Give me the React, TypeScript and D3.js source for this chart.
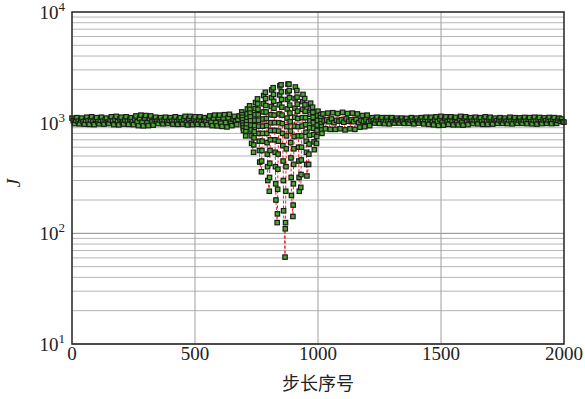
import React from "react";
import * as d3 from "d3";

// ---- data ----
// flat part before the burst: steps 0..680 every 5
const flatLeftStart = 0;
const flatLeftJ = [
  1100, 1040, 980, 1050, 1110, 1030, 975, 1060, 1100, 1020,
  970, 1050, 1120, 1040, 965, 1060, 1130, 1030, 960, 1070,
  1110, 1020, 975, 1050, 1120, 1030, 970, 1060, 1100, 1010,
  980, 1060, 1130, 1030, 960, 1070, 1140, 1020, 955, 1080,
  1120, 1010, 970, 1060, 1130, 1030, 965, 1070, 1110, 1020,
  960, 1080, 1150, 1020, 940, 1090, 1170, 1010, 935, 1100,
  1160, 1000, 940, 1090, 1150, 1020, 950, 1080, 1120, 1030,
  980, 1060, 1110, 1030, 975, 1060, 1120, 1020, 980, 1050,
  1110, 1030, 970, 1060, 1130, 1020, 965, 1070, 1110, 1020,
  970, 1070, 1140, 1010, 955, 1080, 1140, 1000, 960, 1080,
  1130, 1010, 965, 1070, 1130, 1020, 960, 1070, 1110, 1030,
  960, 1090, 1150, 1010, 940, 1100, 1170, 1000, 935, 1110,
  1170, 990, 925, 1100, 1180, 1000, 915, 1110, 1190, 990,
  940, 1080, 1140, 1020, 960, 1070, 1150,
];
// burst: column start steps and the J values in each column (one step apart)
const burstColumnSteps = [
  690, 706, 722, 738, 754, 770, 786, 802, 818, 834, 850,
  866, 882, 898, 914, 930, 946, 962, 978, 994, 1010,
];
const burstColumnJ = [
  [1250, 1180, 1120, 1060, 1000, 950, 900, 850],
  [760, 840, 910, 980, 1050, 1120, 1200, 1330],
  [1420, 1320, 1220, 1130, 1040, 950, 860, 760, 650],
  [540, 630, 730, 830, 940, 1050, 1180, 1340, 1520],
  [1640, 1480, 1320, 1180, 1050, 930, 800, 680, 560, 440],
  [360, 450, 560, 680, 800, 930, 1080, 1250, 1480, 1760],
  [1880, 1650, 1430, 1250, 1090, 940, 800, 660, 520, 400, 300],
  [240, 320, 430, 560, 700, 850, 1000, 1180, 1400, 1680, 1980],
  [2070, 1800, 1560, 1350, 1170, 1000, 850, 700, 540, 400, 280, 200],
  [125, 150, 250, 380, 520, 680, 840, 1000, 1200, 1450, 1780, 2150],
  [2200, 1900, 1620, 1380, 1170, 980, 800, 620, 450, 300, 160],
  [61, 110, 125, 240, 400, 580, 760, 920, 1100, 1330, 1620, 1900, 2230],
  [2230, 1950, 1680, 1440, 1220, 1020, 840, 660, 480, 320, 220],
  [142, 180, 280, 420, 580, 750, 930, 1120, 1350, 1650, 2100],
  [1950, 1700, 1470, 1270, 1090, 920, 760, 600, 450, 320, 240],
  [260, 340, 460, 600, 760, 930, 1110, 1320, 1550, 1800],
  [1650, 1450, 1270, 1110, 960, 820, 680, 540, 420, 330],
  [420, 520, 640, 770, 900, 1040, 1190, 1340, 1500],
  [1380, 1240, 1120, 1000, 890, 780, 670, 570],
  [650, 750, 850, 950, 1050, 1160, 1270],
  [1180, 1110, 1040, 980, 920, 860, 800],
];
// flat part after the burst: steps 1020..2000 every 5
const flatRightStart = 1020;
const flatRightJ = [
  1200, 1040, 880, 1060, 1220, 1020, 870, 1080, 1230, 1000,
  870, 1050, 1210, 1030, 880, 1060, 1240, 1010, 860, 1080,
  1210, 1030, 880, 1060, 1220, 1020, 870, 1070, 1200, 1000,
  910, 1050, 1160, 1030, 920, 1060, 1170, 1020, 940, 1060,
  1110, 1040, 990, 1060, 1120, 1030, 985, 1070, 1110, 1020,
  980, 1060, 1110, 1030, 975, 1070, 1110, 1020, 990, 1060,
  1100, 1040, 990, 1060, 1100, 1030, 985, 1070, 1095, 1020,
  985, 1060, 1110, 1030, 975, 1070, 1100, 1030, 990, 1060,
  1110, 1030, 975, 1070, 1120, 1020, 965, 1080, 1120, 1010,
  955, 1070, 1130, 1020, 945, 1080, 1140, 1010, 950, 1090,
  1130, 1020, 965, 1070, 1130, 1030, 955, 1080, 1120, 1010,
  955, 1080, 1140, 1010, 950, 1090, 1130, 1020, 960, 1080,
  1110, 1030, 980, 1060, 1120, 1030, 975, 1070, 1110, 1020,
  965, 1070, 1130, 1020, 965, 1080, 1120, 1010, 970, 1070,
  1100, 1040, 985, 1060, 1110, 1030, 985, 1060, 1100, 1030,
  980, 1060, 1120, 1030, 975, 1070, 1110, 1020, 985, 1060,
  1105, 1030, 985, 1060, 1115, 1030, 980, 1070, 1110, 1020,
  975, 1060, 1120, 1030, 970, 1070, 1115, 1020, 980, 1060,
  1105, 1040, 985, 1060, 1115, 1030, 980, 1070, 1110, 1020,
  985, 1050, 1100, 1030, 1080, 1020, 1010,
];
const flatStep = 5;

const xTicks = [0, 500, 1000, 1500, 2000];
const yDecades = [1, 2, 3, 4];
const xLabel = "步长序号";
const yLabel = "J";

// ---- build series ----
type Pt = { step: number; J: number };
const points: Pt[] = [];
flatLeftJ.forEach((J, i) => points.push({ step: flatLeftStart + i * flatStep, J }));
burstColumnJ.forEach((col, c) =>
  col.forEach((J, i) => points.push({ step: burstColumnSteps[c] + i, J }))
);
flatRightJ.forEach((J, i) => points.push({ step: flatRightStart + i * flatStep, J }));

const W = 585, H = 399;
const M = { left: 72, right: 564, top: 12, bottom: 344 };

export default function App() {
  const x = d3.scaleLinear().domain([0, 2000]).range([M.left, M.right]);
  const y = d3.scaleLog().domain([10, 10000]).range([M.bottom, M.top]);

  const gridY: { v: number; major: boolean }[] = [];
  for (let e = 1; e <= 3; e++) {
    for (let k = 1; k <= 9; k++) {
      const v = k * Math.pow(10, e);
      gridY.push({ v, major: k === 1 });
    }
  }
  const line = d3
    .line<Pt>()
    .x((d) => x(d.step))
    .y((d) => y(d.J));

  const ms = 4.4;
  const serif = "'Liberation Serif', 'Times New Roman', serif";

  return (
    <svg
      width={W}
      height={H}
      style={{ position: "absolute", left: 0, top: 0, background: "#fff" }}
    >
      <rect x={0} y={0} width={W} height={H} fill="#fff" />
      {/* grid */}
      {gridY.map((g, i) => (
        <line
          key={"gy" + i}
          x1={M.left}
          x2={M.right}
          y1={y(g.v)}
          y2={y(g.v)}
          stroke={g.major ? "#8a8a8a" : "#b5b5b5"}
          strokeWidth={1}
        />
      ))}
      {xTicks.slice(1, -1).map((t) => (
        <line
          key={"gx" + t}
          x1={x(t)}
          x2={x(t)}
          y1={M.top}
          y2={M.bottom}
          stroke="#a0a0a0"
          strokeWidth={1}
        />
      ))}
      {/* data line */}
      <path
        d={line(points) || ""}
        fill="none"
        stroke="#ff2020"
        strokeWidth={1}
        strokeDasharray="3,2"
      />
      {/* markers */}
      {points.map((p, i) => (
        <rect
          key={"m" + i}
          x={x(p.step) - ms / 2}
          y={y(p.J) - ms / 2}
          width={ms}
          height={ms}
          fill="#48a830"
          stroke="#1c1c1c"
          strokeWidth={1.2}
        />
      ))}
      {/* frame */}
      <rect
        x={M.left}
        y={M.top}
        width={M.right - M.left}
        height={M.bottom - M.top}
        fill="none"
        stroke="#222"
        strokeWidth={1.5}
      />
      {/* x tick labels */}
      {xTicks.map((t) => (
        <text
          key={"xt" + t}
          x={x(t)}
          y={360}
          textAnchor="middle"
          fontFamily={serif}
          fontSize={19}
          fill="#222"
        >
          {t}
        </text>
      ))}
      {/* y tick labels */}
      {yDecades.map((e) => (
        <text
          key={"yt" + e}
          x={65}
          y={y(Math.pow(10, e)) + 7}
          textAnchor="end"
          fontFamily={serif}
          fontSize={19}
          fill="#222"
        >
          <tspan>10</tspan>
          <tspan dy={-8} fontSize={13}>
            {e}
          </tspan>
        </text>
      ))}
      {/* axis labels */}
      <text
        x={(M.left + M.right) / 2}
        y={390}
        textAnchor="middle"
        fontFamily="'Noto Sans CJK SC', sans-serif"
        fontSize={18}
        fill="#222"
      >
        {xLabel}
      </text>
      <text
        transform={`translate(20, ${(M.top + M.bottom) / 2 + 5}) rotate(-90)`}
        textAnchor="middle"
        fontFamily={serif}
        fontStyle="italic"
        fontSize={19}
        fill="#222"
      >
        {yLabel}
      </text>
    </svg>
  );
}
